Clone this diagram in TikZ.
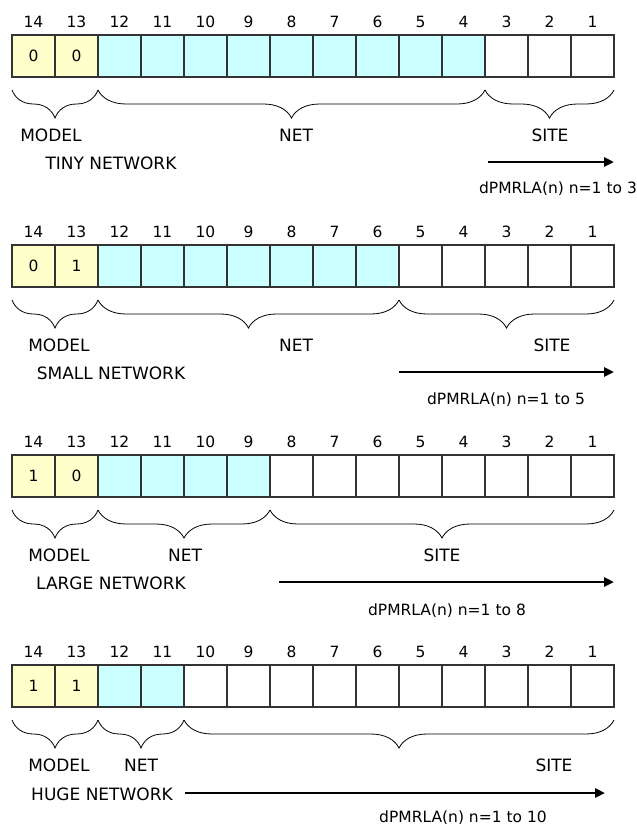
\documentclass[tikz,border=0pt]{standalone}
\usepackage{fontspec}
\setmainfont{DejaVu Sans}
\usetikzlibrary{decorations.pathreplacing,arrows.meta,calc}
\definecolor{modelc}{HTML}{FFFFCC}
\definecolor{netc}{HTML}{CCFFFF}
\definecolor{edgec}{HTML}{333333}
\begin{document}
\begin{tikzpicture}[x=1pt,y=-1pt,
  cell/.style={draw=edgec,line width=1.1pt,minimum width=43pt,minimum height=42pt,inner sep=0pt,outer sep=0pt,anchor=north west},
  num/.style={font=\fontsize{15.5}{15.5}\selectfont,inner sep=0pt},
  bit/.style={font=\fontsize{15.5}{15.5}\selectfont,inner sep=0pt},
  lab/.style={font=\fontsize{17}{17}\selectfont,inner sep=0pt},
  dlab/.style={font=\fontsize{15.5}{15.5}\selectfont,inner sep=0pt},
  brc/.style={decorate,decoration={brace,amplitude=28pt},line width=0.8pt},
  arr/.style={line width=2.8pt,-{Triangle[length=10pt,width=9pt]}}
]
\useasboundingbox (0,0) rectangle (637,830);
\fill[white] (0,0) rectangle (637,830);
\foreach \r/\oy/\nl/\b/\c/\mx/\netx/\sitex/\nwx/\nw/\ax/\ay/\axe/\dx/\dy/\nn in {
  1/0/4/0/0/51/296/550/111/TINY/488/162/614/558/189/3,
  2/210/6/0/1/59/296/552/111/SMALL/399/372/614/506/400/5,
  3/420/9/1/0/59/185/442/111/LARGE/279/582/614/447/611/8,
  4/630/11/1/1/59/141/554/102/HUGE/185/793/605/463/818/10}{
  \foreach \i in {1,...,14}{
    \ifnum\i>12 \def\fc{modelc}\else\ifnum\i<\nl\def\fc{white}\else\def\fc{netc}\fi\fi
    \node[cell,fill=\fc] (r\r c\i) at ({614-43*\i},{35+\oy}) {};
    \node[num] (n\r c\i) at ({614-43*\i+21.5},{22+\oy}) {\i};
  }
  \node[bit] (b\r a) at (r\r c14) {\b};
  \node[bit] (b\r b) at (r\r c13) {\c};
  \coordinate (m\r l) at ($(r\r c14.south west)+(0,13)$);
  \coordinate (m\r r) at ($(r\r c13.south east)+(0,13)$);
  \coordinate (s\r l) at ($(r\r c\nl.south west)+(43,13)$);
  \coordinate (s\r r) at ($(r\r c1.south east)+(0,13)$);
  \draw[brc] (m\r r) -- (m\r l);
  \draw[brc] (s\r l) -- (m\r r);
  \draw[brc] (s\r r) -- (s\r l);
  \node[lab] (lm\r) at (\mx,{135+\oy}) {MODEL};
  \node[lab] (ln\r) at (\netx,{135+\oy}) {NET};
  \node[lab] (ls\r) at (\sitex,{135+\oy}) {SITE};
  \node[lab] (nw\r) at (\nwx,{\ay+1}) {\nw\ NETWORK};
  \coordinate (a\r s) at (\ax,\ay);
  \coordinate (a\r e) at (\axe,\ay);
  \draw[arr] (a\r s) -- (a\r e);
  \node[dlab] (d\r) at (\dx,\dy) {dPMRLA(n) n=1 to \nn};
}
\end{tikzpicture}
\end{document}
